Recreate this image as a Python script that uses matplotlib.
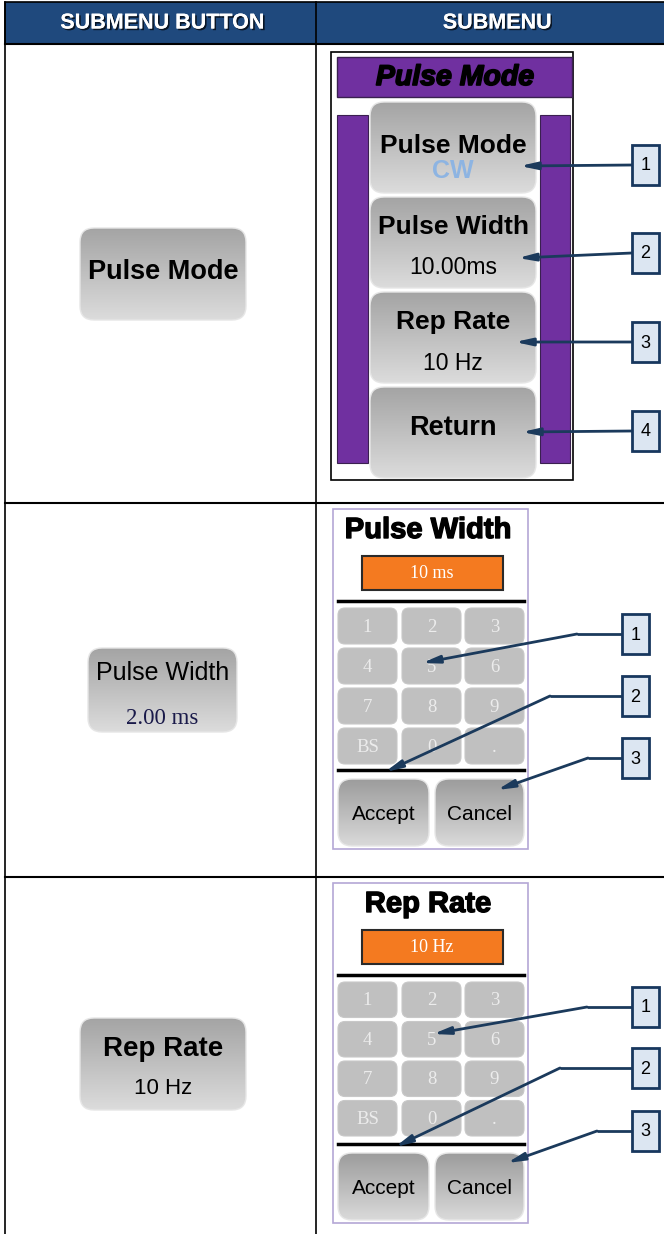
import numpy as np
import matplotlib
matplotlib.use('Agg')
import matplotlib.pyplot as plt
from matplotlib.patches import FancyBboxPatch, Rectangle
from matplotlib.colors import LinearSegmentedColormap
import matplotlib.patheffects as pe

# ---- content ----
header_labels = ['SUBMENU BUTTON', 'SUBMENU']
left_titles = ['Pulse Mode', 'Pulse Width', 'Rep Rate']
left_values = ['', '2.00 ms', '10 Hz']
menu_title = 'Pulse Mode'
menu_items = ['Pulse Mode', 'Pulse Width', 'Rep Rate', 'Return']
menu_values = ['CW', '10.00ms', '10 Hz', '']
keypad_keys = ['1', '2', '3', '4', '5', '6', '7', '8', '9', 'BS', '0', '.']
entry_titles = ['Pulse Width', 'Rep Rate']
entry_values = ['10 ms', '10 Hz']
menu_callouts = ['1', '2', '3', '4']
entry_callouts = ['1', '2', '3']

NAVY = '#1B3A5C'
PURPLE = '#7030A0'
HEADER = '#1F497D'
SANS = 'Liberation Sans'
SERIF = 'Liberation Serif'

fig = plt.figure(figsize=(6.64, 12.34), dpi=100)
ax = fig.add_axes([0, 0, 1, 1])
ax.axis('off')

gray_cmap = LinearSegmentedColormap.from_list('btn', ['#A4A4A4', '#DCDCDC'])


def grad_button(x0, y0, x1, y1, r=12, cmap=gray_cmap):
    patch = FancyBboxPatch((x0, y0), x1 - x0, y1 - y0,
                           boxstyle=f'round,pad=0,rounding_size={r}',
                           facecolor='none', edgecolor='#E6E6E6', lw=1, zorder=3)
    ax.add_patch(patch)
    grad = np.linspace(0, 1, 256).reshape(-1, 1)
    im = ax.imshow(grad, extent=(x0, x1, y1, y0), cmap=cmap, aspect='auto', zorder=2)
    im.set_clip_path(patch)


def callout(num, bx, by, tip, bend=None, w=27, h=40):
    ax.add_patch(Rectangle((bx, by - h / 2), w, h, facecolor='#DCE6F2',
                           edgecolor='#17375E', lw=2, zorder=6))
    ax.text(bx + w / 2, by + 1, num, ha='center', va='center', fontsize=13,
            family=SANS, color='black', zorder=7)
    start = (bx, by)
    if bend is not None:
        ax.plot([bx, bend[0]], [by, bend[1]], color=NAVY, lw=2, zorder=5,
                solid_capstyle='butt')
        start = bend
    ax.annotate('', xy=tip, xytext=start, zorder=5,
                arrowprops=dict(arrowstyle='-|>,head_length=1.0,head_width=0.22',
                                color=NAVY, lw=2, shrinkA=0, shrinkB=0))


# ---- table frame ----
ax.add_patch(Rectangle((5, 2), 670, 42, facecolor=HEADER, edgecolor='black', lw=1.2, zorder=1))
header_x = [162, 497]
for lab, hx in zip(header_labels, header_x):
    ax.text(hx, 23, lab, ha='center', va='center', color='white', fontsize=15.5,
            fontweight='bold', family=SANS, zorder=4,
            path_effects=[pe.withSimplePatchShadow(offset=(1.2, -1.2), shadow_rgbFace='black', alpha=0.7),
                          pe.Normal()])
ax.plot([5, 5], [2, 1234], color='black', lw=1.2)
ax.plot([316, 316], [2, 1234], color='black', lw=1.2)
for yy in [44, 503, 877]:
    ax.plot([5, 664], [yy, yy], color='black', lw=1.5)

# ---- left column buttons ----
left_boxes = [(80, 228, 246, 320), (88, 648, 237, 732), (80, 1018, 246, 1110)]
for (x0, y0, x1, y1), t, v in zip(left_boxes, left_titles, left_values):
    grad_button(x0, y0, x1, y1, r=14)
    cx = (x0 + x1) / 2
    if not v:
        ax.text(cx, (y0 + y1) / 2 - 2, t, ha='center', va='center', fontsize=19.5,
                fontweight='bold', family=SANS, zorder=4)
    elif t == 'Pulse Width':
        ax.text(cx, y0 + 25, t, ha='center', va='center', fontsize=18, family=SANS, zorder=4)
        ax.text(cx, y0 + 70, v, ha='center', va='center', fontsize=16.5,
                family=SERIF, color='#1A1A4A', zorder=4)
    else:
        ax.text(cx, y0 + 31, t, ha='center', va='center', fontsize=20,
                fontweight='bold', family=SANS, zorder=4)
        ax.text(cx, y0 + 71, v, ha='center', va='center', fontsize=16, family=SANS, zorder=4)

# ---- row 1: pulse mode submenu ----
ax.add_patch(Rectangle((331, 52), 242, 428, facecolor='white', edgecolor='black', lw=1.2, zorder=1))
ax.add_patch(Rectangle((337, 57), 235, 40, facecolor=PURPLE, edgecolor='#3A2050', lw=1, zorder=2))
ax.text(455, 78, menu_title, ha='center', va='center', fontsize=20.5, fontweight='bold',
        style='italic', family=SANS, zorder=4,
        path_effects=[pe.withStroke(linewidth=1.2, foreground='black')])
ax.add_patch(Rectangle((337, 115), 31, 348, facecolor=PURPLE, edgecolor='#3A2050', lw=0.8, zorder=2))
ax.add_patch(Rectangle((540, 115), 30, 348, facecolor=PURPLE, edgecolor='#3A2050', lw=0.8, zorder=2))
menu_tops = [102, 197, 292, 387]
for top, item, val in zip(menu_tops, menu_items, menu_values):
    grad_button(370, top, 536, top + 91, r=14)
    if item == 'Return':
        ax.text(453, top + 41, item, ha='center', va='center', fontsize=19.5,
                fontweight='bold', family=SANS, zorder=4)
    elif item == 'Pulse Mode':
        ax.text(453, top + 44, item, ha='center', va='center', fontsize=19,
                fontweight='bold', family=SANS, zorder=4)
        ax.text(453, top + 69, val, ha='center', va='center', fontsize=18,
                fontweight='bold', family=SANS, color='#8DB4E2', zorder=4)
    else:
        ax.text(453, top + 30, item, ha='center', va='center', fontsize=19,
                fontweight='bold', family=SANS, zorder=4)
        ax.text(453, top + 71, val, ha='center', va='center', fontsize=16.5,
                family=SANS, zorder=4)

menu_box_y = [165, 253, 342, 431]
menu_tips = [(520, 166), (518, 258), (515, 342), (522, 432)]
for num, by, tip in zip(menu_callouts, menu_box_y, menu_tips):
    callout(num, 632, by, tip)

# ---- rows 2 and 3: keypad entry panels ----
key_cmap = LinearSegmentedColormap.from_list('acc', ['#9C9C9C', '#DADADA'])


def keypad_panel(top, title, value, pitch):
    ax.add_patch(Rectangle((333, top), 195, 340, facecolor='white', edgecolor='#B4A7D6',
                           lw=1.2, zorder=1))
    ax.text(428, top + 21, title, ha='center', va='center', fontsize=21, fontweight='bold',
            family=SANS, zorder=4,
            path_effects=[pe.withStroke(linewidth=1.0, foreground='black')])
    ax.add_patch(Rectangle((362, top + 47), 141, 34, facecolor='#F47A20', edgecolor='#2A2A2A',
                           lw=1.5, zorder=3))
    ax.text(432, top + 64, value, ha='center', va='center', fontsize=13, color='white',
            family=SERIF, zorder=4)
    ax.plot([338, 524], [top + 92, top + 92], color='black', lw=2.5, zorder=3)
    col_x = [338, 402, 465]
    for i, key in enumerate(keypad_keys):
        r, c = divmod(i, 3)
        ky = top + 99 + r * pitch
        kx = col_x[c]
        ax.add_patch(FancyBboxPatch((kx, ky), 59, pitch - 4,
                                    boxstyle='round,pad=0,rounding_size=7',
                                    facecolor='#C0C0C0', edgecolor='#C8C8C8', lw=0.8, zorder=2))
        ax.text(kx + 29.5, ky + (pitch - 4) / 2 + 1, key, ha='center', va='center',
                fontsize=13.5, color='#ECECEC', family=SERIF, zorder=4)
    ax.plot([338, 524], [top + 261, top + 261], color='black', lw=2.5, zorder=3)
    for x0, x1, lab in [(338, 429, 'Accept'), (435, 524, 'Cancel')]:
        grad_button(x0, top + 270, x1, top + 337, r=14, cmap=key_cmap)
        ax.text((x0 + x1) / 2, top + 305, lab, ha='center', va='center', fontsize=15,
                family=SANS, zorder=4)


keypad_panel(509, entry_titles[0], entry_values[0], 40)
keypad_panel(883, entry_titles[1], entry_values[1], 39.5)

row2_box = [(622, 634), (622, 696), (622, 758)]
row2_bend = [(577, 634), (550, 696), (588, 758)]
row2_tip = [(422, 663), (385, 772), (497, 790)]
for num, (bx, by), bend, tip in zip(entry_callouts, row2_box, row2_bend, row2_tip):
    callout(num, bx, by, tip, bend)

row3_box = [(632, 1007), (632, 1068), (632, 1131)]
row3_bend = [(587, 1007), (560, 1068), (597, 1131)]
row3_tip = [(433, 1034), (395, 1147), (507, 1163)]
for num, (bx, by), bend, tip in zip(entry_callouts, row3_box, row3_bend, row3_tip):
    callout(num, bx, by, tip, bend)

ax.set_xlim(0, 664)
ax.set_ylim(1234, 0)
fig.savefig('out.png', dpi=100)
